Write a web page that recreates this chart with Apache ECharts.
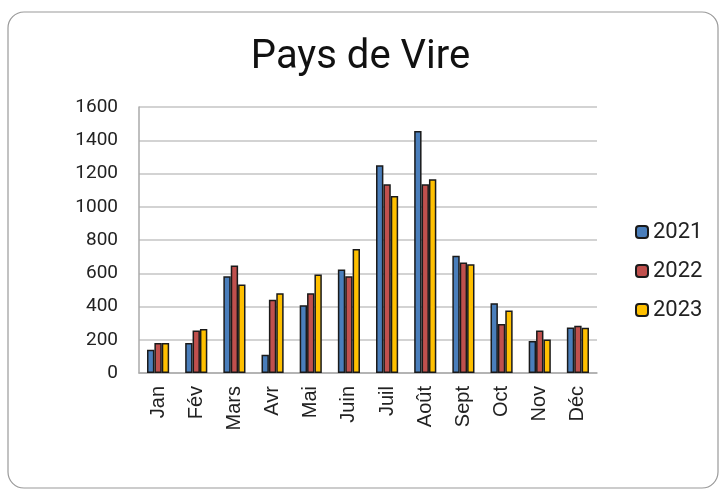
<!DOCTYPE html>
<html><head><meta charset="utf-8">
<script src="https://cdn.jsdelivr.net/npm/echarts@6/dist/echarts.min.js"></script>
<style>html,body{margin:0;padding:0;background:#fff}#c{width:721px;height:491px}</style>
</head><body><div id="c"></div>
<script>
const categories = ['Jan','Fév','Mars','Avr','Mai','Juin','Juil','Août','Sept','Oct','Nov','Déc'];
const yTicks = [0,200,400,600,800,1000,1200,1400,1600];
const s2021 = [140,180,582,110,408,622,1250,1456,706,420,192,274];
const s2022 = [180,256,646,440,480,582,1136,1136,664,294,256,284];
const s2023 = [180,264,532,480,592,746,1064,1166,654,376,202,272];
const seriesNames = ['2021','2022','2023'];
const colors = ['#4A7EBB','#C0504D','#FFC000'];

const chart = echarts.init(document.getElementById('c'));
const data = [s2021,s2022,s2023];
chart.setOption({
  animation:false,
  graphic:[{type:'rect',shape:{x:8,y:12,width:710,height:476,r:16},style:{fill:'none',stroke:'#9a9a9a',lineWidth:1.2},z:-1}],
  title:{text:'Pays de Vire',left:'center',top:33,textStyle:{fontFamily:'Roboto',fontSize:40,fontWeight:'normal',color:'#111'}},
  legend:{orient:'vertical',left:630,top:216,itemWidth:12,itemHeight:12,itemGap:17,
    textStyle:{fontFamily:'Roboto',fontSize:22,color:'#222'},data:seriesNames},
  grid:{left:139,right:124,top:107,bottom:118,containLabel:false},
  xAxis:{type:'category',data:categories,
    axisLine:{lineStyle:{color:'#aaa',width:1.5}},axisTick:{show:false},
    axisLabel:{rotate:90,margin:13,fontFamily:'Liberation Sans',fontSize:20,color:'#222'}},
  yAxis:{type:'value',min:yTicks[0],max:yTicks[yTicks.length-1],interval:200,
    axisLine:{show:true,lineStyle:{color:'#aaa',width:1.5}},axisTick:{show:false},
    splitLine:{lineStyle:{color:'#c4c4c4',width:1.5}},
    axisLabel:{margin:21,fontFamily:'Roboto',fontSize:19,color:'#222',formatter:v=>String(v)}},
  series:seriesNames.map((n,i)=>({name:n,type:'bar',data:data[i],barGap:'0%',barCategoryGap:'42%',
    itemStyle:{color:colors[i],borderColor:'#1a1a1a',borderWidth:1.5}}))
});
</script></body></html>
